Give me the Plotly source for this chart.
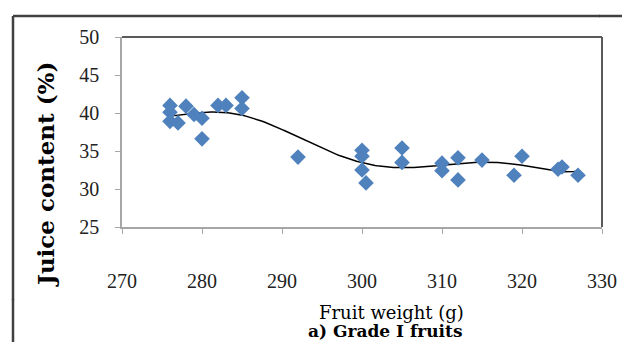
import numpy as np
import plotly.graph_objects as go

fruit_weight = [276, 276, 276, 277, 278, 279, 280, 280, 282, 283, 285, 285, 292,
                300, 300, 300, 300.5, 305, 305, 310, 310, 312, 312, 315, 319, 320,
                324.5, 325, 327]
juice_content = [41.0, 40.1, 38.9, 38.7, 40.9, 39.8, 39.3, 36.6, 41.0, 41.0, 42.0, 40.6, 34.2,
                 35.1, 34.3, 32.5, 30.8, 35.4, 33.5, 33.4, 32.4, 34.1, 31.2, 33.8, 31.8, 34.3,
                 32.6, 32.9, 31.8]
x_ticks = [270, 280, 290, 300, 310, 320, 330]
y_ticks = [25, 30, 35, 40, 45, 50]

# polynomial trendline (as in the spreadsheet chart), fitted to the data
xa = np.array(fruit_weight, dtype=float)
ya = np.array(juice_content, dtype=float)
xc = xa.mean()
coef = np.polyfit(xa - xc, ya, 6)
xt = np.linspace(xa.min(), xa.max(), 200)
yt = np.polyval(coef, xt - xc)

fig = go.Figure()
fig.add_trace(go.Scatter(x=xt, y=yt, mode="lines",
                         line=dict(color="black", width=1.5), hoverinfo="skip",
                         showlegend=False))
fig.add_trace(go.Scatter(x=fruit_weight, y=juice_content, mode="markers",
                         marker=dict(symbol="diamond", size=12, color="#4F81BD",
                                     line=dict(width=0)),
                         showlegend=False))

tickfont = dict(family="Liberation Serif", size=20, color="#222")
fig.update_xaxes(range=[270, 330], tickvals=x_ticks, showgrid=False, zeroline=False,
                 showline=True, linecolor="#a6a6a6", linewidth=1.5,
                 ticks="outside", ticklen=5, tickcolor="#a6a6a6",
                 tickfont=tickfont, ticklabelstandoff=30)
fig.update_yaxes(range=[25, 50], tickvals=y_ticks, showgrid=False, zeroline=False,
                 showline=True, linecolor="#a6a6a6", linewidth=1.5,
                 ticks="outside", ticklen=5, tickcolor="#a6a6a6",
                 tickfont=tickfont, ticklabelstandoff=12)

# plot area (in page pixels): x 122..602, y 37..227 ; page body adds an 8px offset
PL, PT, PW, PH = 122, 37, 480, 190

def px(xp):
    return (xp - PL) / PW

def py(yp):
    return (PT + PH - yp) / PH

frame = dict(color="#404040", width=2.5)
shapes = [
    # darker top and right edges of the plot area
    dict(type="line", xref="paper", yref="paper", x0=0, x1=1, y0=1, y1=1,
         line=dict(color="#5a5a5a", width=2)),
    dict(type="line", xref="paper", yref="paper", x0=1, x1=1, y0=0, y1=1,
         line=dict(color="#5a5a5a", width=2)),
    # outer panel frame (left and top edges)
    dict(type="line", xref="paper", yref="paper", x0=px(13), x1=px(13), y0=py(16), y1=py(300),
         line=frame),
    dict(type="line", xref="paper", yref="paper", x0=px(13), x1=px(13), y0=py(299), y1=py(342),
         line=frame),
    dict(type="line", xref="paper", yref="paper", x0=px(13), x1=px(600), y0=py(16), y1=py(16),
         line=frame),
    dict(type="line", xref="paper", yref="paper", x0=px(599), x1=px(622), y0=py(16), y1=py(16),
         line=frame),
]

annotations = [
    dict(text="<b>Juice content (%)</b>", xref="paper", yref="paper",
         x=px(45), y=py(175), textangle=-90, showarrow=False,
         font=dict(family="DejaVu Serif", size=23, color="black"),
         xanchor="center", yanchor="middle"),
    dict(text="Fruit weight (g)", xref="paper", yref="paper",
         x=px(391), y=py(312), showarrow=False,
         font=dict(family="DejaVu Serif", size=18, color="black"),
         xanchor="center", yanchor="middle"),
    dict(text="<b>a) Grade I fruits</b>", xref="paper", yref="paper",
         x=px(385), y=py(331), showarrow=False,
         font=dict(family="DejaVu Serif", size=17, color="black"),
         xanchor="center", yanchor="middle"),
]

OFF = 8
fig.update_layout(width=631, height=350,
                  margin=dict(l=PL - OFF, r=631 - (PL - OFF) - PW,
                              t=PT - OFF, b=350 - (PT - OFF) - PH),
                  paper_bgcolor="white", plot_bgcolor="white",
                  shapes=shapes, annotations=annotations)

fig.write_html("out.html")
